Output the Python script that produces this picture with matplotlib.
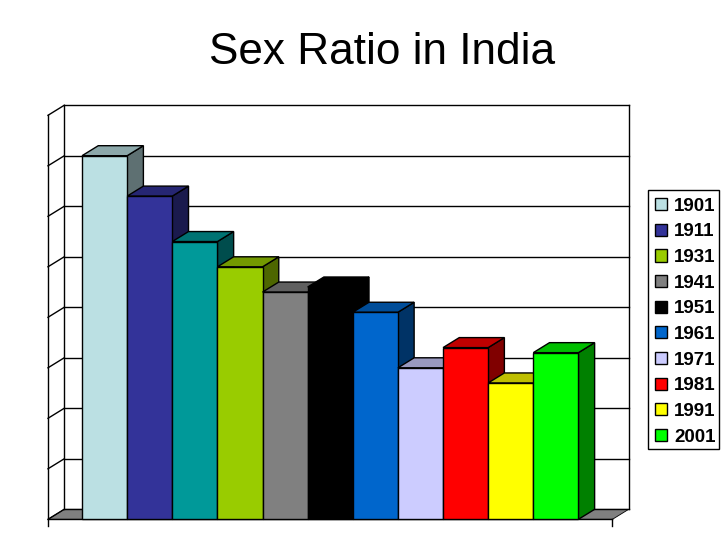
# Sex ratio in India, 3D-looking column chart drawn on a 2D axes
import matplotlib
matplotlib.use("Agg")
import matplotlib.pyplot as plt
from matplotlib.patches import Patch, Polygon, Rectangle
from matplotlib.colors import to_rgb

plt.rcParams["font.family"] = ["Liberation Sans", "DejaVu Sans"]

# Data
years = [1901, 1911, 1921, 1931, 1941, 1951, 1961, 1971, 1981, 1991, 2001]
ratio = [972, 964, 955, 950, 945, 946, 941, 930, 934, 927, 933]
colors = ["#BBE0E3", "#333399", "#009999", "#99CC00", "#808080", "#000000",
          "#0066CC", "#CCCCFF", "#FF0000", "#FFFF00", "#00FF00"]
legend_years = [1901, 1911, 1931, 1941, 1951, 1961, 1971, 1981, 1991, 2001]
y_ticks = [900, 910, 920, 930, 940, 950, 960, 970, 980]

W, H = 728, 546
fig = plt.figure(figsize=(W / 100, H / 100), dpi=100)

# axes = front plane of the chart box, in pixels
left, right, bottom, top = 48.0, 612.5, 519.3, 115.3
ax = fig.add_axes([left / W, 1 - bottom / H, (right - left) / W, (bottom - top) / H])
ax.set_xlim(-0.755, 11.755)
ax.set_ylim(900, 980)
ax.axis("off")

# depth of the box in data units (16 px right, 10 px up)
dx = 16.2 * (ax.get_xlim()[1] - ax.get_xlim()[0]) / (right - left)
dy = 10 * 80 / (bottom - top)
x0, x1 = ax.get_xlim()
tick_end = 898.6


def shade(c, f):
    return tuple(v * f for v in to_rgb(c))


def poly(pts, fc, z=2, lw=1.0, ec="black"):
    ax.add_patch(Polygon(pts, closed=True, facecolor=fc, edgecolor=ec, linewidth=lw,
                         joinstyle="miter", clip_on=False, zorder=z))


# floor
poly([(x0, 900), (x0 + dx, 900 + dy), (x1 + dx, 900 + dy), (x1, 900)], "#808080", z=1, lw=0.6)

# walls and gridlines
for t in y_ticks:
    ax.plot([x0 + dx, x1 + dx], [t + dy, t + dy], color="black", lw=1.0, clip_on=False, zorder=1)
    ax.plot([x0, x0 + dx], [t, t + dy], color="black", lw=1.0, clip_on=False, zorder=1)
ax.plot([x0, x0], [tick_end, 980], color="black", lw=1.0, clip_on=False, zorder=1)
ax.plot([x0 + dx, x0 + dx], [900 + dy, 980 + dy], color="black", lw=1.0, clip_on=False, zorder=1)
ax.plot([x1 + dx, x1 + dx], [900 + dy, 980 + dy], color="black", lw=1.0, clip_on=False, zorder=1)
ax.plot([x0, x1], [900, 900], color="black", lw=1.0, clip_on=False, zorder=1)
ax.plot([x1, x1], [900, tick_end], color="black", lw=1.0, clip_on=False, zorder=1)

# columns, left to right so each one hides the side of the previous
for i, (v, c) in enumerate(zip(ratio, colors)):
    z = 3 + i
    poly([(i + 1, 900), (i + 1 + dx, 900 + dy), (i + 1 + dx, v + dy), (i + 1, v)], shade(c, 0.5), z=z)
    poly([(i, v), (i + dx, v + dy), (i + 1 + dx, v + dy), (i + 1, v)], shade(c, 0.75), z=z)
    poly([(i, 900), (i + 1, 900), (i + 1, v), (i, v)], c, z=z)

# title
fig.text(382 / W, 1 - 64 / H, "Sex Ratio in India", fontsize=31.8, ha="center", va="baseline")

# legend, box drawn apart since the right padding is tighter than the left
fig.add_artist(Rectangle((648 / W, 1 - 449 / H), 71 / W, 259 / H, transform=fig.transFigure,
                         facecolor="white", edgecolor="black", linewidth=1.0, zorder=2))
handles = [Patch(facecolor=colors[years.index(y)], edgecolor="black", linewidth=1.0, label=str(y))
           for y in legend_years]
leg = fig.legend(handles=handles, loc="upper left", bbox_to_anchor=(647 / W, 1 - 190 / H),
                 borderaxespad=0, frameon=False,
                 prop={"size": 13.5, "weight": "bold"}, handlelength=0.62, handleheight=0.62,
                 handletextpad=0.4, labelspacing=0.46, borderpad=0.42)
leg.set_zorder(3)

fig.savefig("out.png", dpi=100)
